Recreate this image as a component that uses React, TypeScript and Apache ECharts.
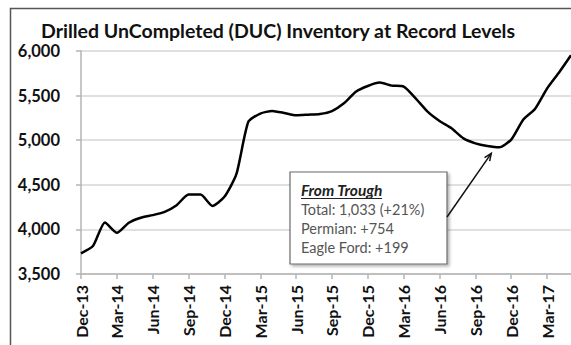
import React, { useEffect, useRef } from "react";
import * as echarts from "echarts";

// Monthly DUC well counts, Dec-2013 through May-2017
const months = [
  "Dec-13", "Jan-14", "Feb-14", "Mar-14", "Apr-14", "May-14", "Jun-14", "Jul-14",
  "Aug-14", "Sep-14", "Oct-14", "Nov-14", "Dec-14", "Jan-15", "Feb-15", "Mar-15",
  "Apr-15", "May-15", "Jun-15", "Jul-15", "Aug-15", "Sep-15", "Oct-15", "Nov-15",
  "Dec-15", "Jan-16", "Feb-16", "Mar-16", "Apr-16", "May-16", "Jun-16", "Jul-16",
  "Aug-16", "Sep-16", "Oct-16", "Nov-16", "Dec-16", "Jan-17", "Feb-17", "Mar-17",
  "Apr-17", "May-17",
];

const ducCount = [
  3732, 3813, 4078, 3962, 4074, 4130, 4160, 4197,
  4272, 4391, 4391, 4263, 4365, 4619, 5206, 5299,
  5328, 5306, 5279, 5286, 5294, 5327, 5414, 5544,
  5608, 5646, 5612, 5601, 5470, 5320, 5215, 5133,
  5021, 4965, 4935, 4920, 5007, 5230, 5353, 5580,
  5760, 5953,
];

const yTicks = [3500, 4000, 4500, 5000, 5500, 6000];

const noteTitle = "From Trough";
const noteLines = ["Total: 1,033 (+21%)", "Permian: +754", "Eagle Ford: +199"];

const troughIndex = 35;

export default function App() {
  const ref = useRef<HTMLDivElement>(null);

  useEffect(() => {
    if (!ref.current) return;
    const chart = echarts.init(ref.current, undefined, { renderer: "svg" });

    const option: any = {
      animation: false,
      backgroundColor: "#ffffff",
      title: {
        text: "Drilled UnCompleted (DUC) Inventory at Record Levels",
        left: 36,
        top: 15,
        textStyle: {
          fontFamily: "Lato",
          fontWeight: "bold",
          fontSize: 19.5,
          color: "#111111",
        },
      },
      grid: { left: 81, right: 0, top: 51, bottom: 71, containLabel: false },
      xAxis: {
        type: "category",
        data: months,
        boundaryGap: false,
        axisLine: { lineStyle: { color: "#b5b5b5", width: 1.5 } },
        axisTick: {
          show: true,
          interval: 2,
          length: 5,
          lineStyle: { color: "#b5b5b5", width: 1.5 },
        },
        axisLabel: {
          interval: 2,
          rotate: 90,
          margin: 11,
          fontFamily: "Lato",
          fontWeight: "bold",
          fontSize: 16,
          color: "#111111",
        },
        splitLine: { show: false },
      },
      yAxis: {
        type: "value",
        min: yTicks[0],
        max: yTicks[yTicks.length - 1],
        interval: 500,
        axisLine: { show: true, lineStyle: { color: "#b5b5b5", width: 1.5 } },
        axisTick: { show: true, length: 5, lineStyle: { color: "#b5b5b5", width: 1.5 } },
        axisLabel: {
          margin: 21,
          fontFamily: "Lato",
          fontWeight: "bold",
          fontSize: 16.5,
          color: "#111111",
          formatter: (v: number) => v.toLocaleString("en-US"),
        },
        splitLine: { lineStyle: { color: "#d6d6d6", width: 1.5 } },
      },
      series: [
        {
          type: "line",
          data: ducCount,
          symbol: "none",
          smooth: 0.2,
          lineStyle: { color: "#000000", width: 2.5 },
        },
      ],
    };
    chart.setOption(option);

    // Annotation box and arrow pointing at the trough
    const trough = chart.convertToPixel({ seriesIndex: 0 }, [troughIndex, ducCount[troughIndex]]) as number[];
    const tipX = trough[0] - 8;
    const tipY = trough[1] + 6;
    const boxX = 290;
    const boxY = 172;
    const boxW = 157;
    const boxH = 92;
    const startX = boxX + boxW;
    const startY = 217;
    const ang = Math.atan2(tipY - startY, tipX - startX);
    const headLen = 8;
    const spread = 0.4;
    const h1 = [tipX - headLen * Math.cos(ang - spread), tipY - headLen * Math.sin(ang - spread)];
    const h2 = [tipX - headLen * Math.cos(ang + spread), tipY - headLen * Math.sin(ang + spread)];

    chart.setOption({
      graphic: [
        {
          type: "rect",
          shape: { x: 10.5, y: 8.5, width: 700, height: 500 },
          style: { fill: "none", stroke: "#555555", lineWidth: 1.5 },
          silent: true,
        },
        {
          type: "rect",
          shape: { x: boxX, y: boxY, width: boxW, height: boxH },
          style: {
            fill: "#ffffff",
            stroke: "#6a6a6a",
            lineWidth: 1.2,
            shadowBlur: 3,
            shadowOffsetX: 2,
            shadowOffsetY: 2,
            shadowColor: "rgba(0,0,0,0.3)",
          },
          z: 10,
        },
        {
          type: "text",
          x: boxX + 11,
          y: 190,
          style: {
            text: noteTitle,
            fontFamily: "Lato",
            fontWeight: "bold",
            fontStyle: "italic",
            fontSize: 15.5,
            fill: "#222222",
            verticalAlign: "middle",
          },
          z: 11,
        },
        {
          type: "line",
          shape: { x1: boxX + 11, y1: 198.5, x2: boxX + 92, y2: 198.5 },
          style: { stroke: "#222222", lineWidth: 1.2 },
          z: 11,
        },
        ...noteLines.map((t, i) => ({
          type: "text",
          x: boxX + 11,
          y: 209.5 + i * 19,
          style: {
            text: t,
            fontFamily: "Lato",
            fontSize: 14.5,
            fill: "#555555",
            verticalAlign: "middle",
          },
          z: 11,
        })),
        {
          type: "line",
          shape: { x1: startX, y1: startY, x2: tipX, y2: tipY },
          style: { stroke: "#111111", lineWidth: 1.5 },
          z: 11,
        },
        {
          type: "polyline",
          shape: { points: [h1, [tipX, tipY], h2] },
          style: { stroke: "#111111", lineWidth: 1.5, fill: "none" },
          z: 11,
        },
      ],
    });

    return () => chart.dispose();
  }, []);

  return (
    <div
      ref={ref}
      style={{ position: "fixed", left: 0, top: 0, width: 571, height: 345, background: "#fff" }}
    />
  );
}
